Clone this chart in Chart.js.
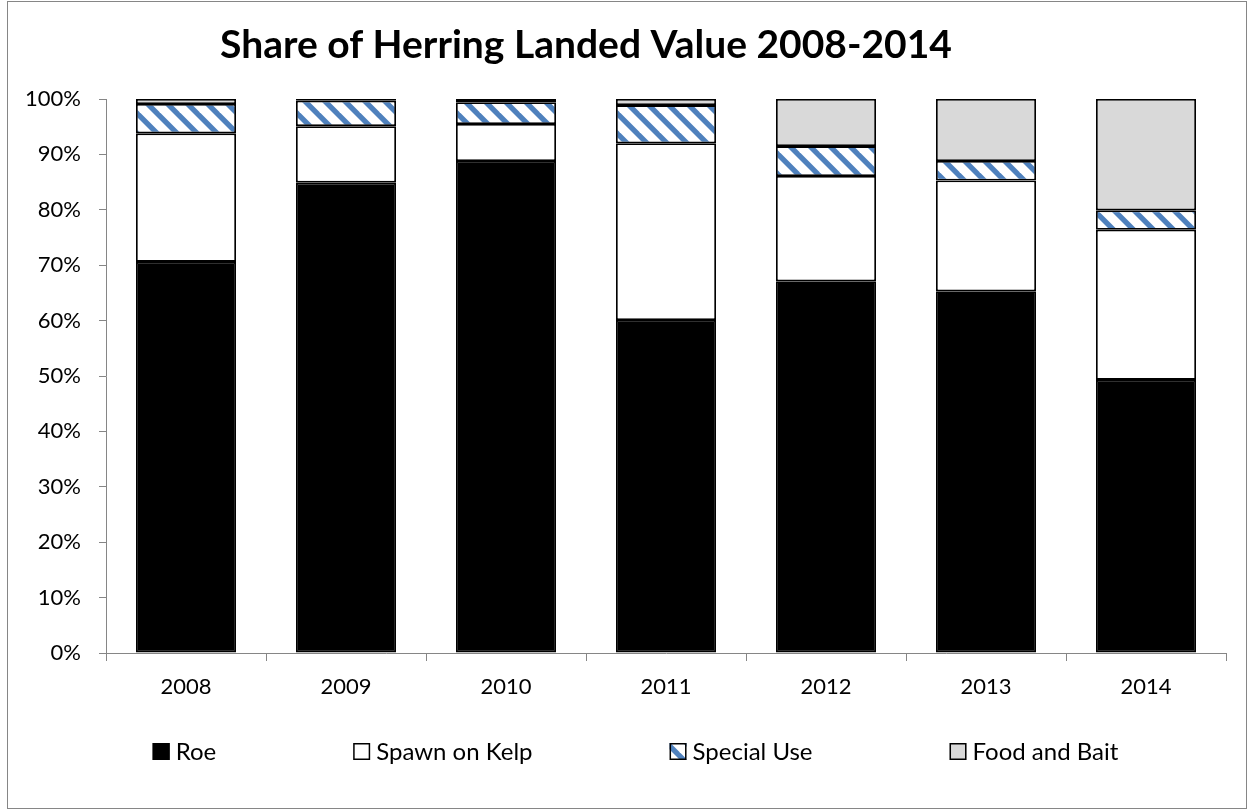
<!DOCTYPE html>
<html><head><meta charset="utf-8">
<script src="https://cdn.jsdelivr.net/npm/chart.js@4.4.1/dist/chart.umd.min.js"></script>
<style>html,body{margin:0;padding:0;background:#fff;}#wrap{width:1253px;height:812px;position:relative;}</style>
</head><body><div id="wrap"><canvas id="c" width="1253" height="812"></canvas></div>
<script>
const chartTitle = 'Share of Herring Landed Value 2008-2014';
const categories = ['2008', '2009', '2010', '2011', '2012', '2013', '2014'];
const seriesNames = ['Roe', 'Spawn on Kelp', 'Special Use', 'Food and Bait'];
const roe = [70.6, 84.9, 88.8, 60.1, 67.1, 65.3, 49.3];
const spawnOnKelp = [23.2, 10.2, 6.7, 31.9, 19.0, 20.0, 27.1];
const specialUse = [5.3, 4.6, 3.9, 6.9, 5.4, 3.5, 3.5];
const foodAndBait = [0.9, 0.3, 0.6, 1.1, 8.5, 11.2, 20.1];
const yTickStep = 10;

const FONT = 'Lato, "Open Sans", sans-serif';

function makeHatch() {
  const t = document.createElement('canvas');
  t.width = 20; t.height = 20;
  const c = t.getContext('2d');
  c.fillStyle = '#ffffff'; c.fillRect(0, 0, 20, 20);
  c.fillStyle = '#4F81BD';
  for (let k = -1; k <= 1; k++) {
    const x = k * 20;
    c.beginPath();
    c.moveTo(x, 0); c.lineTo(x + 7.5, 0); c.lineTo(x + 27.5, 20); c.lineTo(x + 20, 20);
    c.closePath(); c.fill();
  }
  return document.getElementById('c').getContext('2d').createPattern(t, 'repeat');
}

const chromePlugin = {
  id: 'chrome',
  beforeDraw(chart) {
    const ctx = chart.ctx;
    ctx.save();
    ctx.fillStyle = '#fff'; ctx.fillRect(0, 0, chart.width, chart.height);
    ctx.strokeStyle = '#868686'; ctx.lineWidth = 1;
    ctx.strokeRect(7.5, 1.5, 1239, 807);
    ctx.restore();
  },
  afterDraw(chart) {
    const ctx = chart.ctx;
    ctx.save();
    ctx.fillStyle = '#000';
    ctx.font = 'bold 39px ' + FONT;
    ctx.textAlign = 'center'; ctx.textBaseline = 'alphabetic';
    ctx.fillText(chartTitle, 586, 58);
    // legend
    ctx.font = '24px ' + FONT;
    const box = 17, gapT = 6, spacing = 137;
    const items = chart.data.datasets.map(d => ({ label: d.label, fill: d.backgroundColor, w: ctx.measureText(d.label).width }));
    let total = 0;
    items.forEach((it, i) => { total += box + gapT + it.w + (i < items.length - 1 ? spacing : 0); });
    let x = 635.5 - total / 2;
    const cy = 751.5;
    ctx.textAlign = 'left'; ctx.textBaseline = 'middle';
    items.forEach(it => {
      ctx.fillStyle = it.fill;
      ctx.fillRect(x, cy - box / 2, box, box);
      ctx.strokeStyle = '#000'; ctx.lineWidth = 1.5;
      ctx.strokeRect(x + 0.75, cy - box / 2 + 0.75, box - 1.5, box - 1.5);
      ctx.fillStyle = '#000';
      ctx.fillText(it.label, x + box + gapT, cy + 1);
      x += box + gapT + it.w + spacing;
    });
    ctx.restore();
  }
};

function build() {
  const hatch = makeHatch();
  const fills = ['#000000', '#ffffff', hatch, '#D9D9D9'];
  const values = [roe, spawnOnKelp, specialUse, foodAndBait];
  new Chart(document.getElementById('c'), {
    type: 'bar',
    data: {
      labels: categories,
      datasets: seriesNames.map((n, i) => ({
        label: n, data: values[i], backgroundColor: fills[i],
        borderColor: '#000', borderWidth: 1.8, borderSkipped: false,
        barPercentage: 0.625, categoryPercentage: 1
      }))
    },
    options: {
      responsive: false, animation: false, devicePixelRatio: 1,
      layout: { padding: { top: 99, left: 10, right: 27, bottom: 0 } },
      plugins: { legend: { display: false }, title: { display: false }, tooltip: { enabled: false } },
      scales: {
        x: {
          stacked: true,
          grid: { display: true, drawOnChartArea: false, drawTicks: true, tickLength: 8, color: '#868686', offset: true },
          border: { display: true, color: '#868686', width: 1 },
          ticks: { font: { family: FONT, size: 22 }, color: '#000', padding: 13, maxRotation: 0 },
          afterFit(s) { s.height = 159; }
        },
        y: {
          stacked: true, min: 0, max: 100,
          grid: { display: true, drawOnChartArea: false, drawTicks: true, tickLength: 7, color: '#868686' },
          border: { display: true, color: '#868686', width: 1 },
          ticks: { stepSize: yTickStep, callback: v => v + '%', font: { family: FONT, size: 22 }, color: '#000', padding: 18 },
          afterFit(s) { s.width = 96; }
        }
      }
    },
    plugins: [chromePlugin]
  });
}
(document.fonts && document.fonts.load ? Promise.all([document.fonts.load('24px Lato'), document.fonts.load('bold 39px Lato')]) : Promise.resolve()).then(build, build);
</script></body></html>
